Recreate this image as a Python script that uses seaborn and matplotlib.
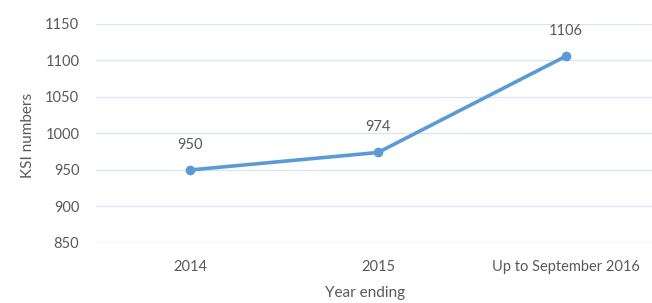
import numpy as np
import pandas as pd
import matplotlib
matplotlib.use("Agg")
import matplotlib.pyplot as plt
import seaborn as sns

categories = ["2014", "2015", "Up to September 2016"]
ksi_values = [950, 974, 1106]
y_ticks = [850, 900, 950, 1000, 1050, 1100, 1150]

LINE_BLUE = "#5B9BD5"
TEXT_GREY = "#595959"
GRID = "#DCE6F0"

sns.set_theme(style="white")
plt.rcParams["font.family"] = ["Lato", "DejaVu Sans"]

df = pd.DataFrame({"Year ending": categories, "KSI numbers": ksi_values})
df["pos"] = np.arange(len(categories))

fig = plt.figure(figsize=(6.52, 3.03), dpi=100)
ax = fig.add_axes([96 / 652, 1 - 243 / 303, 564 / 652, 219 / 303])

sns.lineplot(data=df, x="pos", y="KSI numbers", ax=ax, color=LINE_BLUE,
             linewidth=2.6, marker="o", markersize=7, markeredgewidth=0,
             zorder=3)

ax.set_xlim(-0.5, len(categories) - 0.5)
ax.set_ylim(y_ticks[0], y_ticks[-1])
ax.set_yticks(y_ticks)
ax.set_xticks(df["pos"])
ax.set_xticklabels(categories)
ax.yaxis.grid(True, color=GRID, linewidth=1)
ax.set_axisbelow(True)
for s in ax.spines.values():
    s.set_visible(False)
ax.tick_params(axis="both", length=0, labelsize=10.5, labelcolor=TEXT_GREY)
ax.tick_params(axis="y", pad=12)
ax.tick_params(axis="x", pad=12)

for x, y in zip(df["pos"], df["KSI numbers"]):
    ax.annotate(str(y), (x, y), xytext=(0, 13), textcoords="offset points",
                ha="center", va="bottom", fontsize=10.5, color=TEXT_GREY)

ax.set_xlabel("Year ending", fontsize=11, color=TEXT_GREY)
ax.set_ylabel("KSI numbers", fontsize=11, color=TEXT_GREY)
ax.xaxis.set_label_coords((365 - 96) / 564, -(286 - 243) / 219)
ax.yaxis.set_label_coords(-(96 - 35) / 564, (243 - 135) / 219)

fig.savefig("out.png", dpi=100)
